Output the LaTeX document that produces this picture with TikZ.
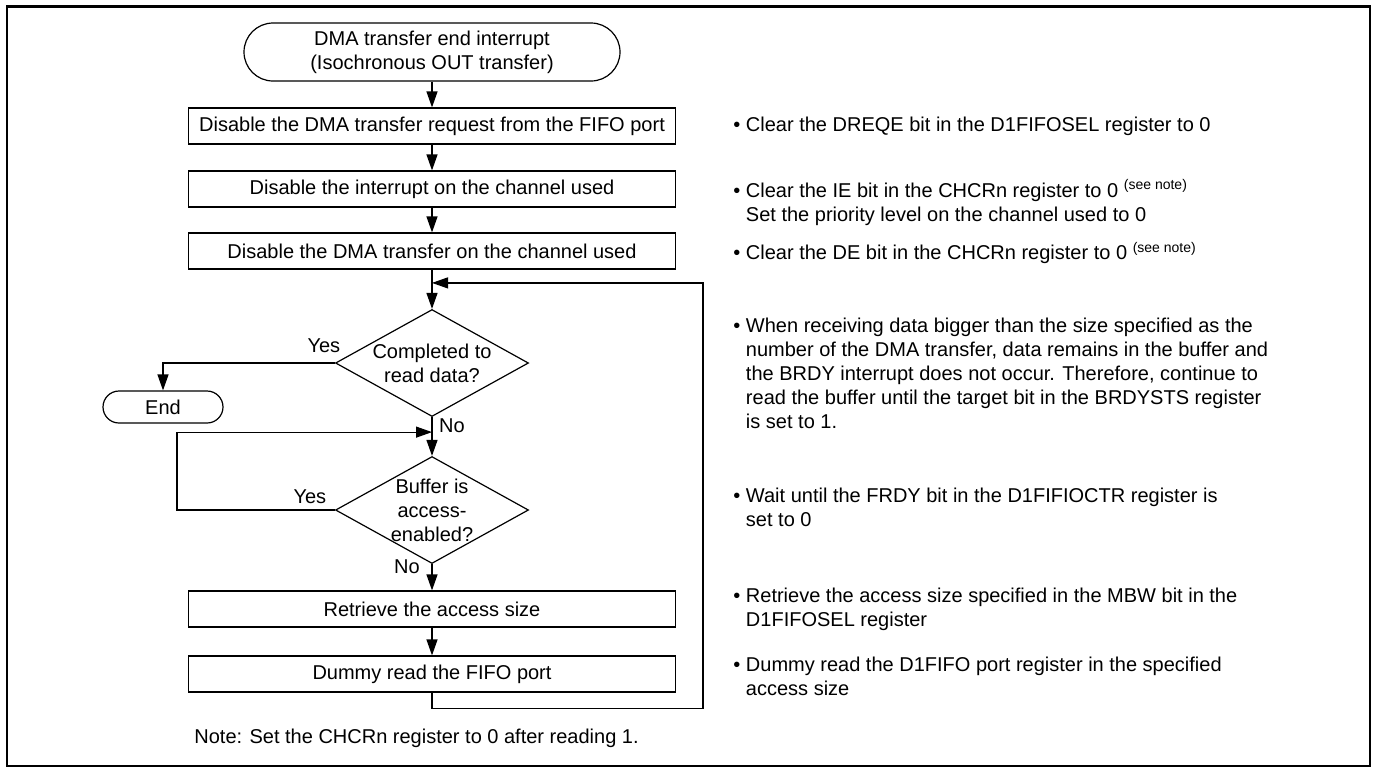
\documentclass[tikz,border=0pt]{standalone}
\usepackage{fontspec}
\setmainfont{Liberation Sans}
\usepackage{tikz}
\usetikzlibrary{shapes.geometric, arrows.meta}
\tikzstyle{startstop} = [rectangle, rounded corners=14.5pt, minimum width=188pt, minimum height=29pt, align=center, draw=black, line width=0.6pt]
\tikzstyle{endstop}   = [rectangle, rounded corners=8pt, minimum width=60pt, minimum height=16pt, text centered, draw=black, line width=0.6pt]
\tikzstyle{process}   = [rectangle, minimum width=243.5pt, minimum height=18pt, text centered, draw=black, line width=0.6pt]
\tikzstyle{decision}  = [diamond, minimum width=96.5pt, minimum height=53.5pt, inner sep=0pt, draw=black, line width=0.6pt]
\tikzstyle{remark}    = [anchor=west, align=left, inner sep=0pt]
\tikzstyle{answer}    = [inner sep=0pt]
\tikzstyle{arrow}     = [line width=0.6pt, -{Triangle[length=8pt, width=5.5pt]}]
\newcommand{\bul}{\textbullet\ }
\newcommand{\ind}{\phantom{\textbullet\ }}
\newcommand{\seenote}{\textsuperscript{(see note)}}

\begin{document}
\begin{tikzpicture}[node distance=32pt]
    \useasboundingbox (0,0) rectangle (687pt,-384pt);
    % Frame
    \draw [line width=1.25pt] (3.5pt,-3.25pt) rectangle (685pt,-383pt);

    % Nodes
    %% Main flow
    \node (start)  [startstop] at (216pt,-26pt) {DMA transfer end interrupt\\(Isochronous OUT transfer)};
    \node (box1)   [process, below of=start, yshift=-5pt]   {Disable the DMA transfer request from the FIFO port};
    \node (box2)   [process, below of=box1, yshift=0.5pt]   {Disable the interrupt on the channel used};
    \node (box3)   [process, below of=box2, yshift=1pt]     {Disable the DMA transfer on the channel used};
    \node (dia1)   [decision, below of=box3, yshift=-24pt,
                    label={[align=center]center:Completed to\\read data?}] {};
    \node (finish) [endstop, left of=dia1, xshift=-102.5pt, yshift=-22pt] {End};
    \node (dia2)   [decision, below of=dia1, yshift=-41.5pt,
                    label={[align=center]center:Buffer is\\access-\\enabled?}] {};
    \node (box4)   [process, below of=dia2, yshift=-17.5pt] {Retrieve the access size};
    \node (box5)   [process, below of=box4, yshift=-0.5pt]  {Dummy read the FIFO port};
    %% Branch labels
    \node (yes_done)  [answer] at ([xshift=-5.5pt, yshift=8.5pt]dia1.west)    {Yes};
    \node (no_done)   [answer] at ([xshift=10pt, yshift=-4.5pt]dia1.south)    {No};
    \node (yes_ready) [answer] at ([xshift=-12.5pt, yshift=6.5pt]dia2.west)   {Yes};
    \node (no_ready)  [answer] at ([xshift=-12.5pt, yshift=-1.5pt]dia2.south) {No};
    %% Remarks
    \node (rem1) [right of=box1, remark, xshift=118.5pt]                {\bul Clear the DREQE bit in the D1FIFOSEL register to 0};
    \node (rem2) [right of=box2, remark, xshift=118.5pt, yshift=-6.75pt] {\bul Clear the IE bit in the CHCRn register to 0 \seenote\\\ind Set the priority level on the channel used to 0};
    \node (rem3) [right of=box3, remark, xshift=118.5pt, yshift=-1pt]    {\bul Clear the DE bit in the CHCRn register to 0 \seenote};
    \node (rem4) [right of=dia1, remark, xshift=118.5pt, yshift=-5pt]    {\bul When receiving data bigger than the size specified as the\\\ind number of the DMA transfer, data remains in the buffer and\\\ind the BRDY interrupt does not occur. Therefore, continue to\\\ind read the buffer until the target bit in the BRDYSTS register\\\ind is set to 1.};
    \node (rem5) [right of=dia2, remark, xshift=118.5pt, yshift=1.25pt]  {\bul Wait until the FRDY bit in the D1FIFIOCTR register is\\\ind set to 0};
    \node (rem6) [right of=box4, remark, xshift=118.5pt]                {\bul Retrieve the access size specified in the MBW bit in the\\\ind D1FIFOSEL register};
    \node (rem7) [right of=box5, remark, xshift=118.5pt, yshift=-1pt]    {\bul Dummy read the D1FIFO port register in the specified\\\ind access size};
    \node (note) [below of=box5, remark, xshift=-119pt]                 {Note: Set the CHCRn register to 0 after reading 1.};

    % Arrows
    \coordinate (loop_top) at ([yshift=13pt]dia1.north);
    \coordinate (loop_mid) at ([yshift=-7.5pt]dia1.south);
    \draw [arrow] (start)     -- (box1);
    \draw [arrow] (box1)      -- (box2);
    \draw [arrow] (box2)      -- (box3);
    \draw [arrow] (box3)      -- (dia1);
    \draw [arrow] (dia1.west) -| (finish);
    \draw [arrow] (dia1)      -- (dia2);
    \draw [arrow] (dia2)      -- (box4);
    \draw [arrow] (box4)      -- (box5);
    \draw [arrow] (box5.south) -- ++(0,-8pt) -- ++(135.5pt,0) |- (loop_top);
    \draw [arrow] (dia2.west)  -- ++(-79pt,0) |- (loop_mid);
\end{tikzpicture}
\end{document}
